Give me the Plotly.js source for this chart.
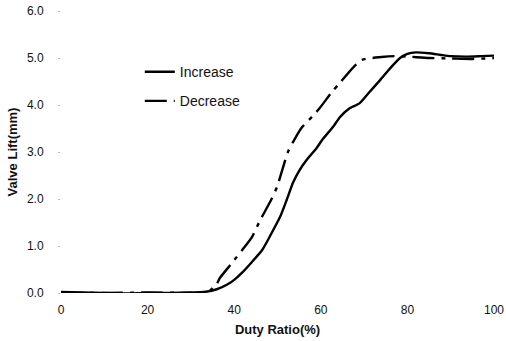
<!DOCTYPE html>
<html>
<head>
<meta charset="utf-8">
<script src="https://cdn.plot.ly/plotly-3.0.1.min.js"></script>
<style>html,body{margin:0;padding:0;background:#fff;}#chart{width:506px;height:341px;}</style>
</head>
<body>
<div id="chart"></div>
<script>
var increaseX = [0, 5, 10, 15, 20, 25, 30, 33, 36, 38.4, 40, 42, 44, 46.5, 48.5, 50.6, 52, 53.6, 55, 56.8, 59, 60.5, 62.8, 64.4, 66.5, 69, 71, 73.7, 76, 78.3, 80, 82, 85, 87.5, 90, 93.8, 97, 100];
var increaseY = [0.02, 0.01, 0.0, -0.01, 0.0, 0.0, 0.01, 0.02, 0.08, 0.18, 0.28, 0.45, 0.65, 0.92, 1.25, 1.62, 1.95, 2.35, 2.6, 2.84, 3.08, 3.28, 3.53, 3.74, 3.92, 4.04, 4.25, 4.53, 4.78, 5.0, 5.09, 5.12, 5.1, 5.07, 5.04, 5.03, 5.04, 5.05];
var decreaseX = [0, 10, 20, 30, 33, 34.5, 36, 36.7, 39.5, 41.8, 44.1, 46, 48.3, 49.9, 51.3, 52.4, 54, 55.7, 58.4, 59.8, 62.6, 64.4, 67.4, 69.5, 74, 77, 80, 85, 90, 95, 100];
var decreaseY = [0.0, 0.0, 0.01, 0.0, 0.0, 0.06, 0.2, 0.32, 0.64, 0.91, 1.19, 1.55, 1.94, 2.26, 2.68, 3.0, 3.28, 3.53, 3.79, 3.94, 4.28, 4.47, 4.79, 4.96, 5.02, 5.04, 5.03, 5.0, 4.99, 4.98, 5.0];
var xTicks = [0, 20, 40, 60, 80, 100];
var yTicks = [0, 1, 2, 3, 4, 5, 6];
var yTickText = ["0.0", "1.0", "2.0", "3.0", "4.0", "5.0", "6.0"];

var font = "Liberation Sans, Arial, sans-serif";
var traces = [
  {x: increaseX, y: increaseY, name: "Increase", mode: "lines", type: "scatter", cliponaxis: false,
   legendgroup: "a", line: {color: "#000", width: 2.4, shape: "spline", smoothing: 0.6}},
  {x: decreaseX, y: decreaseY, name: "Decrease", mode: "lines", type: "scatter", cliponaxis: false,
   legendgroup: "b", line: {color: "#000", width: 2.4, dash: "22px,7px,4px,7px", shape: "spline", smoothing: 0.6}}
];
var layout = {
  width: 506, height: 341,
  margin: {l: 61, r: 12, t: 11, b: 48},
  paper_bgcolor: "#fff", plot_bgcolor: "#fff",
  font: {family: font, size: 12, color: "#111"},
  showlegend: true,
  legend: {x: 0.182, y: 0.84, xanchor: "left", yanchor: "top", bgcolor: "rgba(0,0,0,0)",
           font: {family: font, size: 14, color: "#111"}, traceorder: "grouped", tracegroupgap: 8},
  xaxis: {range: [0, 100], tickvals: xTicks, ticktext: xTicks.map(String), showgrid: false, zeroline: false,
          showline: false, ticks: "", ticklabelstandoff: 8, tickfont: {family: font, size: 12, color: "#111"},
          title: {text: "Duty Ratio(%)", font: {family: font, size: 13, color: "#111", weight: "bold"}, standoff: 8}},
  yaxis: {range: [0, 6], tickvals: yTicks, ticktext: yTickText, showgrid: false, zeroline: false,
          showline: false, ticks: "outside", ticklen: 2, tickcolor: "#bbb", ticklabelstandoff: 12,
          tickfont: {family: font, size: 12, color: "#111"},
          title: {text: "Valve Lift(mm)", font: {family: font, size: 13, color: "#111", weight: "bold"}, standoff: 6}}
};
Plotly.newPlot("chart", traces, layout, {displayModeBar: false, staticPlot: true});
</script>
</body>
</html>
